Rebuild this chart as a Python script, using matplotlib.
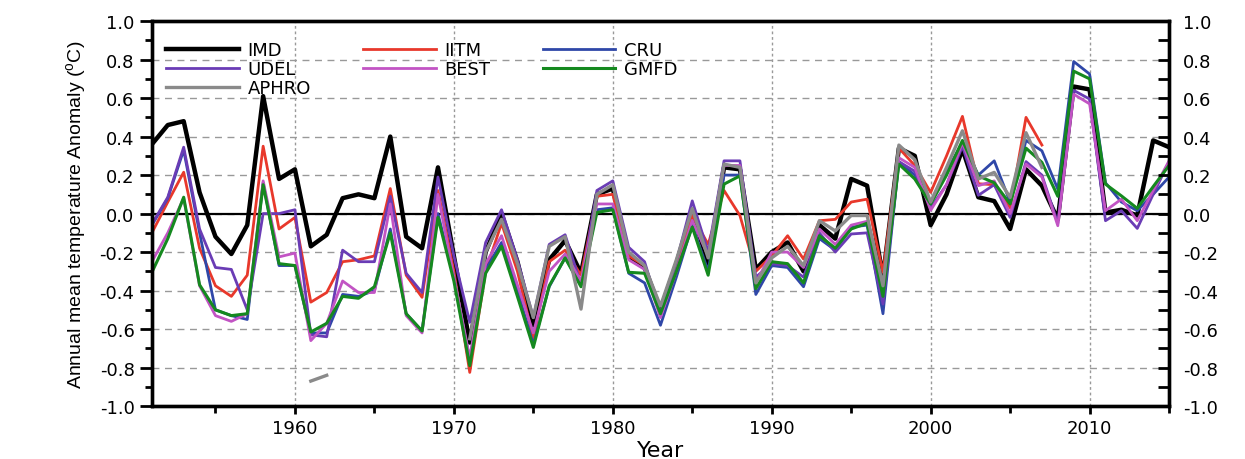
import numpy as np
import matplotlib.pyplot as plt
from matplotlib.ticker import MultipleLocator

nan = np.nan
years = np.arange(1951, 2016)

imd = [0.36, 0.46, 0.48, 0.11, -0.12, -0.21, -0.06, 0.61, 0.18, 0.23,
       -0.17, -0.11, 0.08, 0.10, 0.08, 0.40, -0.12, -0.18, 0.24, -0.22,
       -0.67, -0.20, 0.00, -0.25, -0.58, -0.24, -0.14, -0.31, 0.10, 0.13,
       -0.22, -0.28, -0.50, -0.26, 0.01, -0.26, 0.24, 0.23, -0.29, -0.20,
       -0.15, -0.30, -0.06, -0.13, 0.18, 0.145, -0.33, 0.34, 0.30, -0.06,
       0.10, 0.335, 0.085, 0.065, -0.08, 0.23, 0.145, -0.03, 0.66, 0.645,
       0.005, 0.02, -0.01, 0.38, 0.345]

iitm = [-0.10, 0.06, 0.215, -0.18, -0.375, -0.43, -0.32, 0.35, -0.08, -0.02,
        -0.46, -0.41, -0.25, -0.24, -0.22, 0.13, -0.32, -0.435, 0.12, -0.30,
        -0.825, -0.30, -0.05, -0.30, -0.65, -0.25, -0.19, -0.32, 0.09, 0.10,
        -0.22, -0.27, -0.52, -0.27, -0.01, -0.16, 0.12, -0.01, -0.30, -0.22,
        -0.115, -0.236, -0.037, -0.03, 0.06, 0.075, -0.305, 0.34, 0.25, 0.11,
        0.30, 0.505, 0.155, 0.15, 0.03, 0.50, 0.356, nan, nan, nan,
        nan, nan, nan, nan, nan]

cru = [-0.06, 0.08, 0.33, -0.10, -0.50, -0.53, -0.55, 0.16, -0.27, -0.27,
       -0.62, -0.62, -0.42, -0.43, -0.40, -0.08, -0.52, -0.61, 0.00, -0.33,
       -0.76, -0.29, -0.15, -0.40, -0.68, -0.38, -0.23, -0.37, 0.02, 0.03,
       -0.31, -0.36, -0.58, -0.33, -0.06, -0.30, 0.20, 0.20, -0.42, -0.27,
       -0.28, -0.38, -0.13, -0.19, -0.07, -0.06, -0.52, 0.27, 0.20, 0.06,
       0.22, 0.37, 0.20, 0.274, 0.06, 0.38, 0.326, 0.127, 0.79, 0.725,
       0.16, 0.06, 0.015, 0.10, 0.19]

udel = [-0.055, 0.085, 0.345, -0.08, -0.28, -0.29, -0.50, 0.00, 0.00, 0.02,
        -0.63, -0.64, -0.19, -0.25, -0.25, 0.09, -0.31, -0.41, 0.19, -0.22,
        -0.565, -0.15, 0.02, -0.24, -0.54, -0.16, -0.11, -0.37, 0.12, 0.17,
        -0.175, -0.25, -0.52, -0.25, 0.066, -0.20, 0.274, 0.274, -0.33, -0.26,
        -0.27, -0.33, -0.10, -0.20, -0.106, -0.10, -0.47, 0.27, 0.22, 0.03,
        0.15, 0.35, 0.095, 0.15, -0.02, 0.27, 0.20, -0.05, 0.64, 0.595,
        -0.037, 0.015, -0.077, 0.10, 0.27]

best = [-0.25, -0.10, 0.08, -0.375, -0.53, -0.56, -0.52, 0.17, -0.225, -0.205,
        -0.66, -0.57, -0.35, -0.41, -0.41, 0.05, -0.53, -0.62, 0.10, -0.33,
        -0.75, -0.26, -0.115, -0.37, -0.62, -0.30, -0.21, -0.35, 0.05, 0.05,
        -0.24, -0.29, -0.54, -0.30, -0.035, -0.22, 0.25, 0.25, -0.36, -0.20,
        -0.20, -0.28, -0.08, -0.16, -0.06, -0.04, -0.40, 0.29, 0.24, 0.017,
        0.15, 0.37, 0.145, 0.17, 0.00, 0.257, 0.19, -0.063, 0.62, 0.57,
        0.015, 0.075, -0.037, 0.12, 0.274]

gmfd = [-0.305, -0.13, 0.085, -0.37, -0.50, -0.53, -0.52, 0.15, -0.26, -0.27,
        -0.615, -0.57, -0.43, -0.44, -0.38, -0.10, -0.52, -0.61, -0.02, -0.35,
        -0.79, -0.31, -0.17, -0.43, -0.695, -0.375, -0.23, -0.38, 0.006, 0.02,
        -0.305, -0.31, -0.52, -0.30, -0.07, -0.32, 0.153, 0.196, -0.39, -0.25,
        -0.26, -0.36, -0.115, -0.18, -0.08, -0.05, -0.43, 0.257, 0.18, 0.05,
        0.20, 0.38, 0.196, 0.16, 0.05, 0.34, 0.266, 0.09, 0.74, 0.70,
        0.153, 0.092, 0.027, 0.14, 0.25]

aphro = [nan, nan, nan, nan, nan, nan, nan, nan, nan, nan,
         -0.87, -0.84, nan, nan, nan, nan, nan, nan, nan, nan,
         -0.65, -0.20, -0.03, -0.26, -0.54, -0.17, -0.12, -0.496, 0.10, 0.15,
         -0.20, -0.27, -0.48, -0.24, 0.026, -0.23, 0.257, 0.24, -0.36, -0.23,
         -0.17, -0.27, -0.037, -0.09, -0.01, -0.01, -0.375, 0.356, 0.28, 0.06,
         0.24, 0.43, 0.18, 0.214, 0.084, 0.42, 0.24, nan, nan, nan,
         nan, nan, nan, nan, nan]

names = ['IMD', 'IITM', 'CRU', 'UDEL', 'BEST', 'GMFD', 'APHRO']
series = [imd, iitm, cru, udel, best, gmfd, aphro]
colors = ['black', '#e8382b', '#2f47a8', '#6a3cb5', '#c254c4', '#15891f', '#8a8a8a']
widths = [3.2, 2.0, 2.0, 2.0, 2.0, 2.2, 2.4]

fig = plt.figure(figsize=(12.45, 4.6), dpi=100)
ax = fig.add_axes([0.122, 0.115, 0.817, 0.837])

lines = {}
for nm, ys, c, w in zip(names, series, colors, widths):
  lines[nm], = ax.plot(years, ys, color=c, lw=w, label=nm)

ax.axhline(0, color='black', lw=1.6, zorder=1)

ax.set_xlim(1951, 2015)
ax.set_ylim(-1.0, 1.0)
ax.xaxis.set_major_locator(MultipleLocator(10))
ax.xaxis.set_minor_locator(MultipleLocator(5))
ax.yaxis.set_major_locator(MultipleLocator(0.2))
ax.yaxis.set_minor_locator(MultipleLocator(0.1))
ax.yaxis.set_major_formatter(plt.FuncFormatter(lambda v, p: '%.1f' % v))

ax.grid(axis='y', which='major', ls=(0, (5, 4)), color='#999999', lw=1.0)
ax.grid(axis='x', which='major', ls=(0, (2, 2)), color='#999999', lw=1.0)
ax.set_axisbelow(True)

for s in ax.spines.values():
  s.set_linewidth(2.4)

ax.tick_params(axis='both', which='major', direction='out', length=9, width=2, labelsize=13)
ax.tick_params(axis='both', which='minor', direction='out', length=5, width=2)
ax.tick_params(axis='x', which='major', length=6)
ax.tick_params(axis='x', which='minor', length=5)

ax2 = ax.twinx()
ax2.set_ylim(-1.0, 1.0)
ax2.yaxis.set_major_locator(MultipleLocator(0.2))
ax2.yaxis.set_minor_locator(MultipleLocator(0.1))
ax2.yaxis.set_major_formatter(plt.FuncFormatter(lambda v, p: '%.1f' % v))
ax2.tick_params(axis='y', which='major', direction='in', length=8, width=2, labelsize=13, pad=10)
ax2.tick_params(axis='y', which='minor', direction='in', length=8, width=2)
for s in ax2.spines.values():
  s.set_linewidth(2.4)

ax.set_xlabel('Year', fontsize=16, labelpad=2)
ax.set_ylabel(r'Annual mean temperature Anomaly ($\mathregular{^o}$C)',
              fontsize=14, family='Liberation Sans', labelpad=8)

# matplotlib fills legend columns first; reorder so rows read like the original
order = ['IMD', 'UDEL', 'APHRO', 'IITM', 'BEST', 'CRU', 'GMFD']
ax.legend([lines[n] for n in order], order, loc='upper left', ncol=3,
          frameon=False, fontsize=13, handlelength=4.0, handletextpad=0.5,
          labelspacing=0.05, columnspacing=2.9, borderaxespad=0.4,
          bbox_to_anchor=(0.0, 0.985))

fig.savefig('out.png', dpi=100)
